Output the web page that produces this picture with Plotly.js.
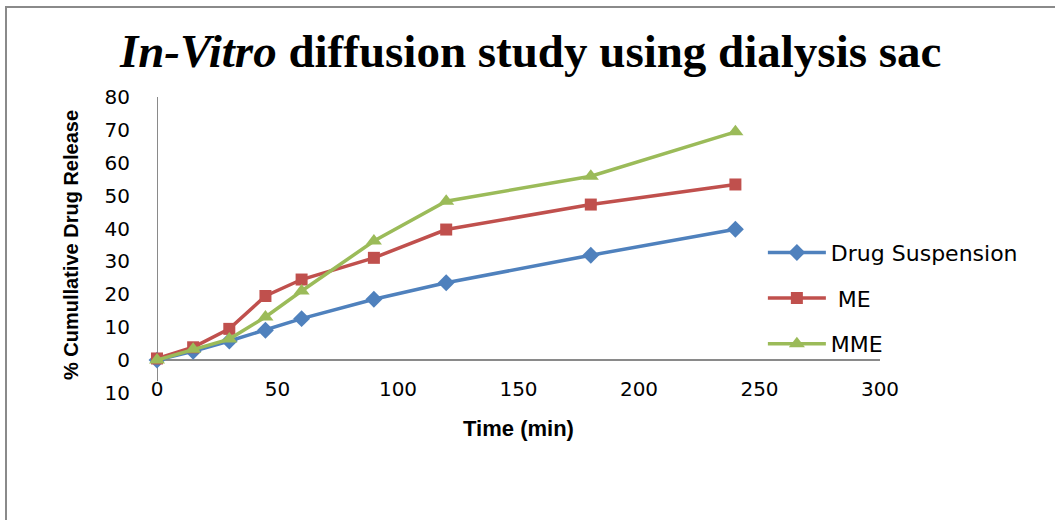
<!DOCTYPE html>
<html>
<head>
<meta charset="utf-8">
<script src="https://cdn.plot.ly/plotly-3.0.1.min.js"></script>
<style>
  html, body { margin: 0; padding: 0; background: #fff; }
  #wrap { position: relative; width: 1055px; height: 520px; }
  #chart { width: 1055px; height: 520px; }
  #frame { position: absolute; left: 5px; top: 6px; right: 0; bottom: 0;
           border-left: 2px solid #8a8a8a; border-top: 2px solid #8a8a8a; pointer-events: none; }
</style>
</head>
<body>
<div id="wrap"><div id="chart"></div><div id="frame"></div></div>
<script>
// Data
const timeMin = [0, 15, 30, 45, 60, 90, 120, 180, 240];
const drugSuspension = [0, 2.7, 5.8, 9.1, 12.6, 18.5, 23.5, 31.9, 39.8];
const meRelease = [0.5, 3.9, 9.5, 19.5, 24.5, 31.1, 39.7, 47.3, 53.4];
const mmeRelease = [0, 3.3, 6.4, 13.1, 21.0, 36.2, 48.3, 55.9, 69.4];

const seriesNames = ["Drug Suspension", "\u00a0ME", "MME"];
const yTickVals = [-10, 0, 10, 20, 30, 40, 50, 60, 70, 80];
const yTickText = ["10", "0", "10", "20", "30", "40", "50", "60", "70", "80"];
const xTickVals = [0, 50, 100, 150, 200, 250, 300];

const colors = ["#4F81BD", "#C0504D", "#9BBB59"];
const symbols = ["diamond", "square", "triangle-up"];
const sizes = [13, 12, 14];
const ys = [drugSuspension, meRelease, mmeRelease];

const traces = ys.map((y, i) => ({
  x: timeMin,
  y: y,
  type: "scatter",
  mode: "lines+markers",
  name: seriesNames[i],
  legendgroup: "g" + i,
  cliponaxis: false,
  line: { color: colors[i], width: 3.5 },
  marker: { color: colors[i], symbol: symbols[i], size: sizes[i], line: { width: 0 } }
}));

const layout = {
  width: 1055,
  height: 520,
  margin: { l: 157, r: 175, t: 97, b: 127 },
  paper_bgcolor: "#ffffff",
  plot_bgcolor: "#ffffff",
  showlegend: true,
  title: {
    text: "<i>In-Vitro</i> diffusion study using dialysis sac",
    font: { family: "Liberation Serif", size: 47, color: "#000", weight: "bold" },
    x: 0.503, xref: "container", xanchor: "center",
    y: 0.903, yref: "container", yanchor: "middle"
  },
  xaxis: {
    range: [0, 300],
    tickvals: xTickVals,
    ticks: "",
    showgrid: false,
    zeroline: false,
    showline: false,
    anchor: "free",
    position: 0.06,
    tickfont: { family: "DejaVu Sans", size: 20, color: "#000" },
    title: { text: "Time (min)", font: { family: "Liberation Sans", size: 22, color: "#000", weight: "bold" }, standoff: 20 },
    automargin: false
  },
  yaxis: {
    range: [-10, 80],
    tickvals: yTickVals,
    ticktext: yTickText,
    ticks: "outside",
    ticklen: 22,
    tickcolor: "rgba(0,0,0,0)",
    showgrid: false,
    showline: false,
    zeroline: true,
    zerolinecolor: "#8a8a8a",
    zerolinewidth: 2,
    tickfont: { family: "DejaVu Sans", size: 20, color: "#000" },
    title: { text: "% Cumullative Drug Release", font: { family: "Liberation Sans", size: 20, color: "#000", weight: "bold" }, standoff: 20 },
    automargin: false
  },
  shapes: [{
    type: "line", xref: "x", yref: "y", x0: 0, x1: 0, y0: -6.4, y1: 80,
    line: { color: "#8a8a8a", width: 2 }, layer: "below"
  }],
  legend: {
    x: 0.838, xanchor: "left",
    y: 0.545, yanchor: "top",
    font: { family: "DejaVu Sans", size: 22, color: "#000" },
    traceorder: "grouped",
    tracegroupgap: 14,
    itemwidth: 58,
    bgcolor: "rgba(0,0,0,0)"
  }
};

Plotly.newPlot("chart", traces, layout, { displayModeBar: false, staticPlot: true });
</script>
</body>
</html>
